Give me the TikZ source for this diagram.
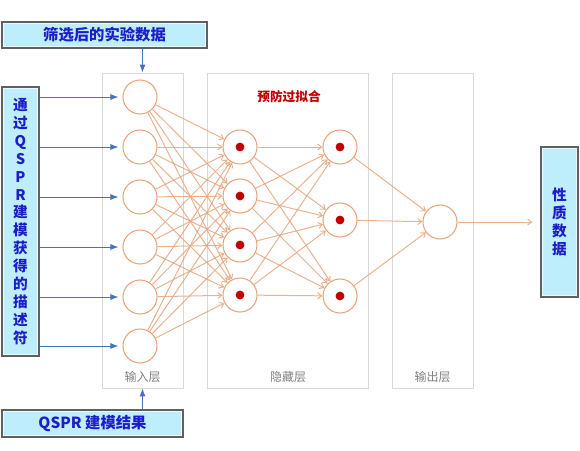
\documentclass[tikz,border=0pt]{standalone}
\usepackage{fontspec}
\setmainfont{Liberation Sans}
\newfontfamily\cjk{Noto Sans CJK SC}
\usetikzlibrary{arrows.meta}

\definecolor{nodeorange}{RGB}{232,165,125}
\definecolor{dotred}{RGB}{192,0,0}
\definecolor{arrowblue}{RGB}{68,114,196}
\definecolor{infocyan}{RGB}{190,238,252}
\definecolor{infoblue}{RGB}{30,30,200}
\definecolor{boxgray}{RGB}{217,217,217}
\definecolor{labelgray}{RGB}{128,128,128}

\tikzset{
  neuron/.style={circle, draw=nodeorange, line width=0.8pt, minimum size=25.5pt, inner sep=0pt},
  layerbox/.style={draw=boxgray, line width=0.6pt, inner sep=0pt},
  infobox/.style={draw=gray!75!black, fill=infocyan, line width=0.9pt, inner sep=0pt, align=center,
    path picture={\draw [white, line width=3pt, opacity=0.7] (path picture bounding box.north west) rectangle (path picture bounding box.south east);}},
  layerlabel/.style={font=\cjk\fontsize{9}{10}\selectfont, text=labelgray},
  link/.style={draw=nodeorange, draw opacity=0.85, line width=0.75pt, -{Straight Barb[length=3pt,width=4.5pt]}},
  feed/.style={draw=arrowblue, line width=0.7pt, -{Latex[length=6pt,width=4.5pt]}}
}

\begin{document}
\begin{tikzpicture}[x=0.75pt,y=0.75pt,yscale=-1,xscale=1]
\useasboundingbox (0,0) rectangle (580,450);

% layer frames
\node [layerbox, minimum width=60.75pt, minimum height=236.25pt] (inlayer) at (142.5,230.5) {};
\node [layerbox, minimum width=120.75pt, minimum height=236.25pt] (hidlayer) at (287.5,230.5) {};
\node [layerbox, minimum width=60.75pt, minimum height=236.25pt] (outlayer) at (432.5,230.5) {};

\node [layerlabel] (inlabel) at (142.5,377) {输入层};
\node [layerlabel] (hidlabel) at (288,377) {隐藏层};
\node [layerlabel] (outlabel) at (432.5,377) {输出层};
\node [font=\cjk\bfseries\fontsize{9.5}{11}\selectfont, text=dotred] (overfit) at (289,97) {预防过拟合};

% neurons
\foreach \y [count=\k] in {97,147,197,247,297,346}
  \node [neuron] (i\k) at (140,\y) {};
\foreach \y [count=\k] in {147,196,245,295}
  \node [neuron] (h\k) at (240,\y) {};
\foreach \y [count=\k] in {147,220,296}
  \node [neuron] (g\k) at (340,\y) {};
\node [neuron] (o) at (440,222) {};

\foreach \k in {1,...,4} \fill [dotred] (h\k) circle (3.3pt);
\foreach \k in {1,...,3} \fill [dotred] (g\k) circle (3.3pt);

% weights
\foreach \a in {1,...,6}
  \foreach \b in {1,...,4}
    \draw [link] (i\a) -- (h\b);
\foreach \a in {1,...,4}
  \foreach \b in {1,...,3}
    \draw [link] (h\a) -- (g\b);
\foreach \a in {1,...,3}
  \draw [link] (g\a) -- (o);

% data boxes
\node [infobox, minimum width=153.75pt, minimum height=19.5pt, font=\cjk\bfseries\color{infoblue}\fontsize{11.5}{13}\selectfont] (expdata) at (104.5,35) {筛选后的实验数据};
\node [infobox, minimum width=27.75pt, minimum height=201.75pt, font=\cjk\bfseries\color{infoblue}\fontsize{11}{13.4}\selectfont] (desc) at (20.5,221.5)
  {通\\过\\Q\\S\\P\\R\\建\\模\\获\\得\\的\\描\\述\\符};
\node [infobox, minimum width=135.75pt, minimum height=20.25pt, font=\cjk\bfseries\color{infoblue}\fontsize{11.5}{13}\selectfont] (result) at (92.5,423.5) {QSPR 建模结果};
\node [infobox, minimum width=27.75pt, minimum height=112.5pt, font=\cjk\bfseries\color{infoblue}\fontsize{11}{13.3}\selectfont] (prop) at (559.5,222) {性\\质\\数\\据};

% feeds
\foreach \k in {1,...,6}
  \draw [feed, shorten >=3pt] (desc.east |- i\k) -- (i\k);
\draw [feed] (expdata.south -| inlayer.north) -- (inlayer.north);
\draw [feed] (result.north -| inlayer.south) -- (inlayer.south);
\draw [link, shorten >=6pt] (o) -- (prop);
\end{tikzpicture}
\end{document}
